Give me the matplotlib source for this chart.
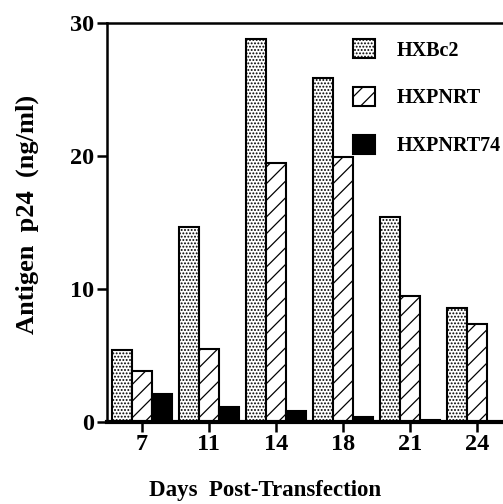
import matplotlib
matplotlib.use("Agg")
import matplotlib.pyplot as plt
import numpy as np

plt.rcParams["font.family"] = "Liberation Serif"
plt.rcParams["font.weight"] = "bold"
plt.rcParams["hatch.linewidth"] = 0.9

days = ["7", "11", "14", "18", "21", "24"]
hxbc2 = [5.4, 14.7, 28.8, 25.9, 15.4, 8.6]
hxpnrt = [3.8, 5.5, 19.5, 19.9, 9.5, 7.4]
hxpnrt74 = [2.1, 1.1, 0.85, 0.35, 0.15, 0.0]
series_names = ["HXBc2", "HXPNRT", "HXPNRT74"]

fig = plt.figure(figsize=(5.03, 5.04), dpi=100)
ax = fig.add_axes([0.2127, 0.163, 0.7873, 0.791])

x = np.arange(len(days))
w = 0.3
ax.bar(x - w, hxbc2, w, facecolor="white", edgecolor="black", hatch=".....",
       linewidth=1.5, label=series_names[0])
ax.bar(x, hxpnrt, w, facecolor="white", edgecolor="black", hatch="//",
       linewidth=1.5, label=series_names[1])
ax.bar(x + w, hxpnrt74, w, facecolor="black", edgecolor="black",
       linewidth=1.5, label=series_names[2])

ax.set_xlim(-0.52, 5.39)
ax.set_ylim(0, 30)
ax.set_yticks([0, 10, 20, 30])
ax.set_xticks(x)
ax.set_xticklabels(days)

ax.spines["right"].set_visible(False)
ax.spines["left"].set_linewidth(1.8)
ax.spines["top"].set_linewidth(1.8)
ax.spines["bottom"].set_linewidth(3)
ax.tick_params(axis="both", direction="out", length=7, width=1.8,
               labelsize=17.5, pad=2)

ax.set_ylabel("Antigen  p24  (ng/ml)", fontsize=19, fontweight="bold")
ax.yaxis.set_label_coords(-0.172, 0.52)
ax.set_xlabel("Days  Post-Transfection", fontsize=16.5, fontweight="bold")
ax.xaxis.set_label_coords(0.4, -0.145)

ax.legend(loc="upper left", bbox_to_anchor=(0.621, 0.96), frameon=False,
          fontsize=14.5, handlelength=1.1, handleheight=1.1,
          labelspacing=1.3, handletextpad=1.05, borderaxespad=0, borderpad=0)

fig.savefig("out.png", dpi=100)
